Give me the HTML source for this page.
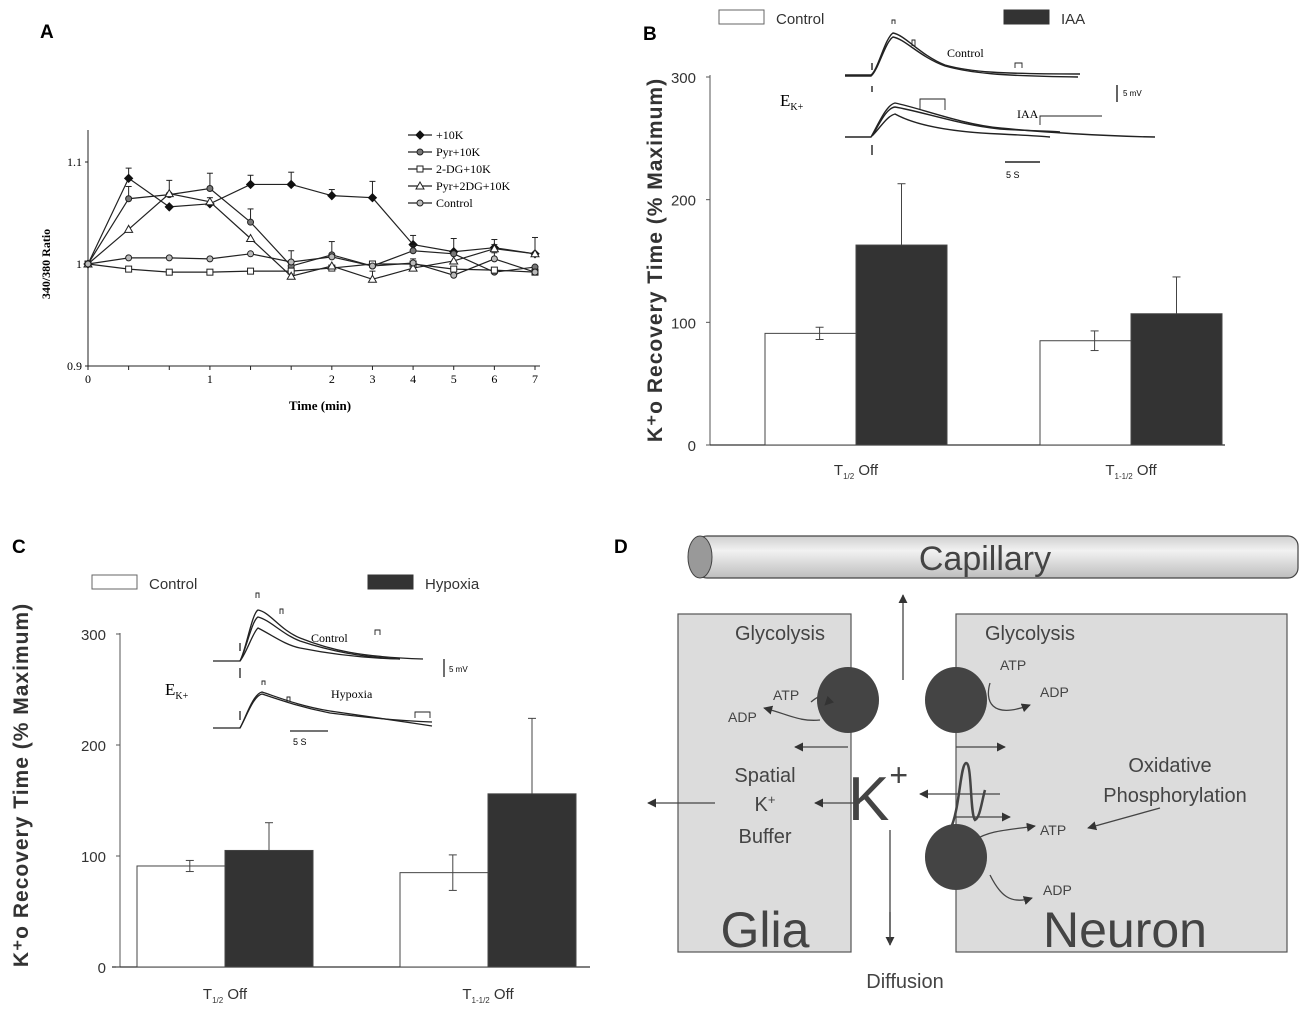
<!DOCTYPE html>
<html><head><meta charset="utf-8"><style>
html,body{margin:0;padding:0;background:#fff;}
svg{display:block;font-family:"Liberation Sans",sans-serif;}
.ser{font-family:"Liberation Serif",serif;}
</style></head><body>
<svg id="fig" width="1300" height="1035" viewBox="0 0 1300 1035" xmlns="http://www.w3.org/2000/svg">
<defs>
<linearGradient id="cap" x1="0" y1="0" x2="0" y2="1"><stop offset="0" stop-color="#cfcfcf"/><stop offset="0.35" stop-color="#f2f2f2"/><stop offset="1" stop-color="#bdbdbd"/></linearGradient>
<marker id="ah" viewBox="0 0 10 10" refX="9" refY="5" markerWidth="7" markerHeight="7" orient="auto"><path d="M0,0 L10,5 L0,10 z" fill="#333"/></marker>
</defs>

<text x="40" y="38" font-size="19" font-weight="bold">A</text>
<text x="643" y="40" font-size="19" font-weight="bold">B</text>
<text x="12" y="553" font-size="19" font-weight="bold">C</text>
<text x="614" y="553" font-size="19" font-weight="bold">D</text>

<g id="panelA"></g>
<g id="panelB"></g>
<g id="panelC"></g>

<!-- Inset B -->
<g fill="none" stroke="#222" stroke-width="1.4">
<path d="M845,75 L871,75 C878,70 885,38 893,33 C905,35 920,55 945,65 C970,72 1000,74 1080,74"/>
<path d="M845,76 L871,76 C878,71 885,42 893,37 C905,39 920,57 945,66 C970,73 1000,76 1078,77"/>
<path d="M845,137 L871,137 C878,125 886,105 895,103 C920,108 960,124 1000,128 C1040,132 1100,136 1155,137"/>
<path d="M872,136 C879,125 886,108 895,107 C920,111 960,125 1000,129 C1030,131 1050,131 1060,132"/>
<path d="M872,136 C880,128 887,116 895,114 C915,125 950,132 1000,134 C1020,135 1040,136 1050,137"/>
<line x1="872" y1="63" x2="872" y2="70"/><line x1="872" y1="86" x2="872" y2="92"/><line x1="872" y1="145" x2="872" y2="155"/>
<path d="M892,24 v-4 h3 v4 M912,46 v-6 h3 v6 M1015,68 v-5 h7 v5 M920,110 v-11 h25 v11 M1040,125 v-9 h62" stroke-width="0.9"/>
<line x1="1117" y1="85" x2="1117" y2="102"/><line x1="1005" y1="162" x2="1040" y2="162"/>
</g>
<text x="947" y="57" class="ser" font-size="12">Control</text>
<text x="1017" y="118" class="ser" font-size="12">IAA</text>
<text x="1123" y="96" font-size="8">5 mV</text>
<text x="1006" y="178" font-size="9">5 S</text>
<text x="780" y="106" class="ser" font-size="17">E<tspan font-size="10" dy="4">K+</tspan></text>

<!-- Inset C -->
<g transform="translate(0,-20)">
<g fill="none" stroke="#222" stroke-width="1.3">
<path d="M213,681 L240,681 C246,670 252,633 258,630 C270,632 280,650 300,658 C330,670 360,677 423,679"/>
<path d="M240,681 C246,670 252,640 258,637 C270,640 282,654 300,661 C330,671 360,677 400,679"/>
<path d="M240,681 C247,672 253,652 258,648 C272,655 285,665 300,668 C330,674 360,678 400,679"/>
<path d="M213,748 L240,748 C246,737 253,714 262,712 C280,718 300,726 330,731 C370,737 400,741 432,746"/>
<path d="M240,748 C246,738 253,716 262,714 C280,720 300,727 330,733 C370,738 400,741 432,742"/>
<line x1="240" y1="663" x2="240" y2="671"/><line x1="240" y1="688" x2="240" y2="698"/><line x1="240" y1="731" x2="240" y2="740"/>
<path d="M256,618 v-5 h3 v5 M280,634 v-5 h3 v5 M375,655 v-5 h5 v5 M262,705 v-4 h3 v4 M287,722 v-5 h3 v5 M415,738 v-6 h15 v6" stroke-width="0.9"/>
<line x1="444" y1="679" x2="444" y2="697"/><line x1="290" y1="751" x2="328" y2="751"/>
</g>
<text x="311" y="662" class="ser" font-size="12">Control</text>
<text x="331" y="718" class="ser" font-size="12">Hypoxia</text>
<text x="449" y="692" font-size="8">5 mV</text>
<text x="293" y="765" font-size="9">5 S</text>
<text x="165" y="715" class="ser" font-size="17">E<tspan font-size="10" dy="4">K+</tspan></text>
</g>

<!-- Panel D diagram -->
<g>
<rect x="697" y="536" width="601" height="42" rx="10" fill="url(#cap)" stroke="#444" stroke-width="1.2"/>
<ellipse cx="700" cy="557" rx="12" ry="21" fill="#999" stroke="#444"/>
<text x="985" y="570" font-size="34" fill="#444" text-anchor="middle">Capillary</text>
<rect x="678" y="614" width="173" height="338" fill="#dcdcdc" stroke="#555" stroke-width="1.2"/>
<rect x="956" y="614" width="331" height="338" fill="#dcdcdc" stroke="#555" stroke-width="1.2"/>
<text x="780" y="640" font-size="20" fill="#444" text-anchor="middle">Glycolysis</text>
<text x="1030" y="640" font-size="20" fill="#444" text-anchor="middle">Glycolysis</text>
<text x="773" y="700" font-size="14" fill="#444">ATP</text>
<text x="728" y="722" font-size="14" fill="#444">ADP</text>
<text x="1000" y="670" font-size="14" fill="#444">ATP</text>
<text x="1040" y="697" font-size="14" fill="#444">ADP</text>
<text x="1040" y="835" font-size="14" fill="#444">ATP</text>
<text x="1043" y="895" font-size="14" fill="#444">ADP</text>
<g fill="#444">
<ellipse cx="848" cy="700" rx="31" ry="33"/><ellipse cx="956" cy="700" rx="31" ry="33"/><ellipse cx="956" cy="857" rx="31" ry="33"/>
</g>
<g fill="none" stroke="#444" stroke-width="1.3" marker-end="url(#ah)">
<path d="M811,702 C825,690 835,695 825,705"/>
<path d="M820,720 C800,722 790,715 764,708"/>
<path d="M990,683 C985,700 990,720 1030,705"/>
<path d="M990,875 C1000,895 1010,905 1032,898"/>
<path d="M975,840 C990,830 1010,830 1035,826"/>
<path d="M1160,808 L1088,828"/>
<line x1="848" y1="747" x2="795" y2="747"/>
<line x1="956" y1="747" x2="1005" y2="747"/>
<line x1="956" y1="817" x2="1010" y2="817"/>
<line x1="860" y1="803" x2="815" y2="803"/>
<line x1="715" y1="803" x2="648" y2="803"/>
<line x1="1000" y1="794" x2="920" y2="794"/>
<line x1="903" y1="680" x2="903" y2="595"/>
<line x1="890" y1="912" x2="890" y2="945"/>
</g>
<line x1="890" y1="830" x2="890" y2="945" stroke="#444" stroke-width="1.3"/>
<path d="M950,830 C960,810 960,765 966,763 C972,762 970,815 975,820 C980,818 982,800 985,790" fill="none" stroke="#444" stroke-width="2.5"/>
<text x="878" y="820" font-size="62" fill="#444" text-anchor="middle">K<tspan font-size="32" dy="-34">+</tspan></text>
<text x="765" y="782" font-size="20" fill="#444" text-anchor="middle">Spatial</text>
<text x="765" y="811" font-size="20" fill="#444" text-anchor="middle">K<tspan font-size="13" dy="-7">+</tspan></text>
<text x="765" y="843" font-size="20" fill="#444" text-anchor="middle">Buffer</text>
<text x="1170" y="772" font-size="20" fill="#444" text-anchor="middle">Oxidative</text>
<text x="1175" y="802" font-size="20" fill="#444" text-anchor="middle">Phosphorylation</text>
<text x="765" y="947" font-size="50" fill="#444" text-anchor="middle">Glia</text>
<text x="1125" y="947" font-size="50" fill="#444" text-anchor="middle">Neuron</text>
<text x="905" y="988" font-size="20" fill="#444" text-anchor="middle">Diffusion</text>
</g>
</svg>
<script>
const NS="http://www.w3.org/2000/svg";
function mk(parent,tag,attrs,txt){const e=document.createElementNS(NS,tag);for(const k in attrs)e.setAttribute(k,attrs[k]);if(txt!==undefined)e.textContent=txt;parent.appendChild(e);return e;}

// ---------- Panel A data ----------
const timeIdx=[0,1,2,3,4,5,6,7,8,9,10,11];
const timeTickLabels=["0","","","1","","","2","3","4","5","6","7"];
const yTicksA=[0.9,1,1.1];
const seriesNamesA=["+10K","Pyr+10K","2-DG+10K","Pyr+2DG+10K","Control"];
const k10=[1,1.084,1.056,1.059,1.078,1.078,1.067,1.065,1.019,1.012,1.016,1.010];
const k10Err=[0,0.010,0,0,0.009,0.012,0.006,0.016,0.009,0.013,0.008,0.016];
const pyr10=[1,1.064,1.068,1.074,1.041,0.998,1.009,0.998,1.013,1.010,0.992,0.997];
const pyr10Err=[0,0.012,0.014,0.015,0.013,0.015,0.013,0,0.005,0,0,0];
const dg10=[1,0.995,0.992,0.992,0.993,0.993,0.996,1.0,1.0,0.995,0.994,0.992];
const dg10Err=[0,0,0,0,0,0,0,0,0,0,0,0];
const pyr2dg=[1,1.034,1.069,1.061,1.025,0.988,0.998,0.985,0.996,1.003,1.015,1.010];
const pyr2dgErr=[0,0,0,0.004,0,0,0,0.008,0,0,0.004,0];
const ctrlA=[1,1.006,1.006,1.005,1.010,1.002,1.007,0.998,1.001,0.989,1.005,0.992];
const ctrlAErr=[0,0,0,0,0,0,0,0,0.004,0,0.006,0];

// ---------- Panel B data ----------
const groupsB=["T1/2 Off","T1-1/2 Off"];
const controlB=[91,85];
const controlBErr=[5,8];
const iaaB=[163,107];
const iaaBErr=[50,30];
const yTicksB=[0,100,200,300];

// ---------- Panel C data ----------
const groupsC=["T1/2 Off","T1-1/2 Off"];
const controlC=[91,85];
const controlCErr=[5,16];
const hypoxiaC=[105,156];
const hypoxiaCErr=[25,68];
const yTicksC=[0,100,200,300];

// ===== Panel A =====
(function(){
const g=document.getElementById('panelA');
const x0=88,x1=535,yb=366;
const xs=i=>x0+(x1-x0)*i/11;
const ys=v=>264-(v-1)*(366-162)/0.2;
mk(g,'line',{x1:x0,y1:130,x2:x0,y2:yb,stroke:'#222'});
mk(g,'line',{x1:x0,y1:yb,x2:540,y2:yb,stroke:'#222'});
yTicksA.forEach(t=>{
  mk(g,'line',{x1:x0-3,y1:ys(t),x2:x0,y2:ys(t),stroke:'#222'});
  const tl=mk(g,'text',{x:x0-6,y:ys(t)+4,'font-size':12,'text-anchor':'end',class:'ser'},String(t));
  
  
});
timeIdx.forEach((i,k)=>{
  mk(g,'line',{x1:xs(i),y1:yb,x2:xs(i),y2:yb+4,stroke:'#222'});
  if(timeTickLabels[k]){const tl=mk(g,'text',{x:xs(i),y:yb+17,'font-size':12,'text-anchor':'middle',class:'ser'},timeTickLabels[k]);
  
  }
});
const yt1=mk(g,'text',{x:0,y:0,'font-size':12,'font-weight':'bold','text-anchor':'middle',class:'ser',transform:'translate(50,264) rotate(-90)'},'340/380 Ratio');


const xt=mk(g,'text',{x:320,y:410,'font-size':13,'font-weight':'bold','text-anchor':'middle',class:'ser'},'Time (min)');


const all=[[k10,k10Err,'dia','#111'],[pyr10,pyr10Err,'circ','#777'],[dg10,dg10Err,'sq','#fff'],[pyr2dg,pyr2dgErr,'tri','#fff'],[ctrlA,ctrlAErr,'circ','#bbb']];
function marker(p,x,y,s,f){
  let m;
  if(s==='dia')m=mk(p,'path',{d:`M${x},${y-4}L${x+4},${y}L${x},${y+4}L${x-4},${y}Z`,fill:f,stroke:'#111'});
  else if(s==='circ')m=mk(p,'circle',{cx:x,cy:y,r:3,fill:f,stroke:'#222'});
  else if(s==='sq')m=mk(p,'rect',{x:x-3,y:y-3,width:6,height:6,fill:f,stroke:'#222'});
  else m=mk(p,'path',{d:`M${x},${y-4}L${x+4},${y+3}L${x-4},${y+3}Z`,fill:f,stroke:'#222'});
  return m;
}
all.forEach((s,si)=>{
  const sg=mk(g,'g',{});
  
  
  mk(sg,'polyline',{points:timeIdx.map(i=>xs(i)+','+ys(s[0][i])).join(' '),fill:'none',stroke:'#222','stroke-width':1.2});
  timeIdx.forEach(i=>{
    if(s[1][i]>0){const yy=ys(s[0][i]+s[1][i]);mk(sg,'line',{x1:xs(i),y1:ys(s[0][i]),x2:xs(i),y2:yy,stroke:'#222'});mk(sg,'line',{x1:xs(i)-3,y1:yy,x2:xs(i)+3,y2:yy,stroke:'#222'});}
    const m=marker(sg,xs(i),ys(s[0][i]),s[2],s[3]);
    
    
  });
  const ly=135+si*17;
  const le=mk(g,'g',{});
  
  
  mk(le,'line',{x1:408,y1:ly,x2:432,y2:ly,stroke:'#222','stroke-width':1.2});
  marker(le,420,ly,s[2],s[3]);
  mk(le,'text',{x:436,y:ly+4,'font-size':12,class:'ser'},seriesNamesA[si]);
});
})();

// ===== Bar panels =====
function barPanel(id,cfg){
  const g=document.getElementById(id);
  const ys=v=>cfg.y0-(cfg.y0-cfg.y300)*v/300;
  mk(g,'line',{x1:cfg.ax,y1:cfg.axTop,x2:cfg.ax,y2:cfg.y0,stroke:'#555'});
  mk(g,'line',{x1:cfg.axStart,y1:cfg.y0,x2:cfg.axEnd,y2:cfg.y0,stroke:'#333','stroke-width':1.2});
  cfg.ticks.forEach(t=>{
    mk(g,'line',{x1:cfg.ax-4,y1:ys(t),x2:cfg.ax,y2:ys(t),stroke:'#555'});
    const tl=mk(g,'text',{x:cfg.ax-14,y:ys(t)+6,'font-size':15,'text-anchor':'end',fill:'#333'},String(t));
    
    
  });
  const yt=mk(g,'text',{x:0,y:0,'font-size':21,'font-weight':'bold','text-anchor':'middle',fill:'#333','letter-spacing':'1',transform:`translate(${cfg.titleX},${cfg.titleY}) rotate(-90)`},'K⁺o Recovery Time (% Maximum)');
  
  
  cfg.groups.forEach((gname,i)=>{
    const gx=cfg.gx[i];
    [[cfg.a,cfg.aErr,'#fff',0],[cfg.b,cfg.bErr,'#333',1]].forEach(([vals,errs,fill,j])=>{
      const x=gx+j*cfg.bw;
      const r=mk(g,'rect',{x:x,y:ys(vals[i]),width:cfg.bw,height:cfg.y0-ys(vals[i]),fill:fill,stroke:'#444','stroke-width':1});
      
      
      const cx=x+cfg.bw*(j?0.5:0.6);
      const yt2=ys(vals[i]+errs[i]);
      const ylo=j?ys(vals[i]):ys(vals[i]-errs[i]);
      mk(g,'line',{x1:cx,y1:yt2,x2:cx,y2:ylo,stroke:'#444'});
      mk(g,'line',{x1:cx-4,y1:yt2,x2:cx+4,y2:yt2,stroke:'#444'});
      if(!j)mk(g,'line',{x1:cx-4,y1:ylo,x2:cx+4,y2:ylo,stroke:'#444'});
    });
    const sub=i===0?'1/2':'1-1/2';
    const lt=mk(g,'text',{x:gx+cfg.bw,y:cfg.y0+cfg.labDy,'font-size':15,'text-anchor':'middle',fill:'#333'});
    lt.innerHTML=`T<tspan font-size="8" dy="4">${sub}</tspan><tspan dy="-4"> Off</tspan>`;
    
    
  });
  const l1=mk(g,'g',{});
  
  
  mk(l1,'rect',{x:cfg.legX,y:cfg.legY,width:45,height:14,fill:'#fff',stroke:'#666'});
  mk(l1,'text',{x:cfg.legX+57,y:cfg.legY+14,'font-size':15,fill:'#333'},'Control');
  const l2=mk(g,'g',{});
  
  
  mk(l2,'rect',{x:cfg.legX2,y:cfg.legY,width:45,height:14,fill:'#333',stroke:'#333'});
  mk(l2,'text',{x:cfg.legX2+57,y:cfg.legY+14,'font-size':15,fill:'#333'},cfg.bName);
}
barPanel('panelB',{y0:445,y300:77,ax:710,axTop:75,axStart:710,axEnd:1225,ticks:yTicksB,groups:groupsB,gx:[765,1040],bw:91,a:controlB,aErr:controlBErr,b:iaaB,bErr:iaaBErr,titleX:662,titleY:260,labDy:30,legX:719,legX2:1004,legY:10,bName:'IAA'});
barPanel('panelC',{y0:967,y300:634,ax:120,axTop:633,axStart:112,axEnd:590,ticks:yTicksC,groups:groupsC,gx:[137,400],bw:88,a:controlC,aErr:controlCErr,b:hypoxiaC,bErr:hypoxiaCErr,titleX:28,titleY:785,labDy:32,legX:92,legX2:368,legY:575,bName:'Hypoxia'});
</script>
</body></html>
